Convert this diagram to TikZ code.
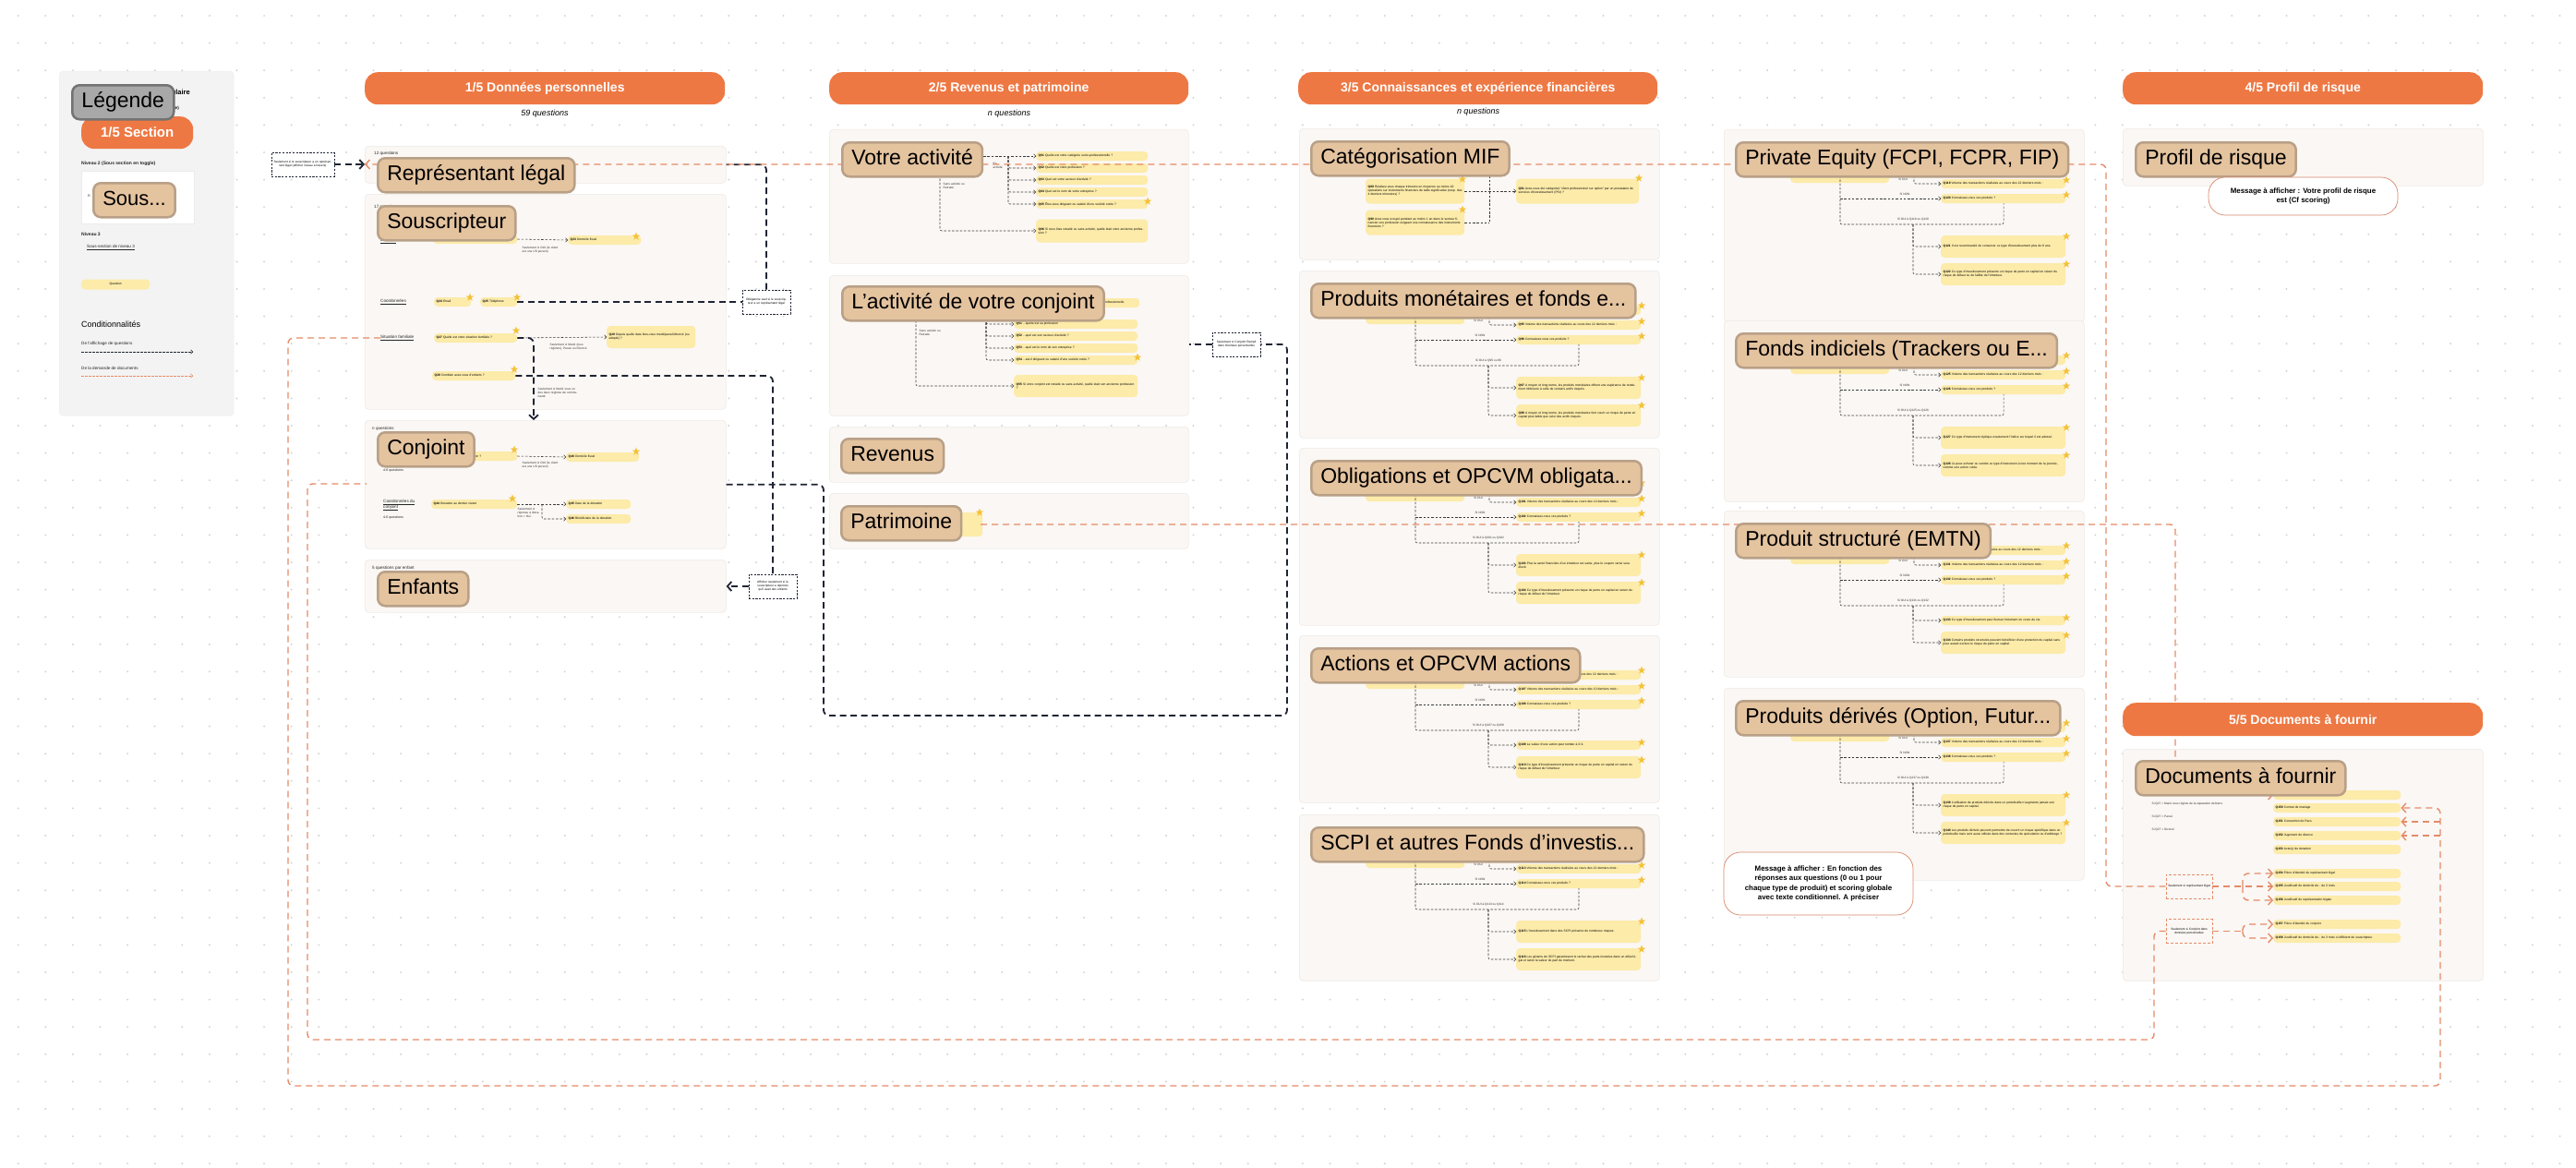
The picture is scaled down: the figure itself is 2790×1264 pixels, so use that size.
\documentclass[tikz,border=0pt]{standalone}
\usepackage{fontspec}
\setmainfont{Liberation Sans}
\usetikzlibrary{arrows.meta,shapes.geometric,calc}
\pgfdeclarelayer{bg}
\pgfdeclarelayer{fg}
\pgfsetlayers{bg,main,fg}
\definecolor{hdr}{HTML}{EE7843}
\definecolor{pnl}{HTML}{FAF7F4}
\definecolor{pnlb}{HTML}{EEEAE6}
\definecolor{lblf}{HTML}{E4C39F}
\definecolor{lbld}{HTML}{B8A087}
\definecolor{qy}{HTML}{FCEBA9}
\definecolor{stary}{HTML}{F4C23A}
\definecolor{oline}{HTML}{E58B68}
\definecolor{bline}{HTML}{1E2433}
\definecolor{tline}{HTML}{3A3A3A}
\definecolor{dotc}{HTML}{D4D4D4}
\definecolor{legf}{HTML}{F3F3F3}
\definecolor{legl}{HTML}{A8A8A8}
\definecolor{msgb}{HTML}{D9876A}
\tikzset{
 panel/.style={fill=pnl, draw=pnlb, line width=0.6pt, rounded corners=4pt, inner sep=0pt},
 legpanel/.style={fill=legf, draw=black!7, line width=0.4pt, rounded corners=4pt, inner sep=0pt},
 hdrbox/.style={fill=hdr, rounded corners=14pt, text=white, font=\fontsize{14}{16}\selectfont\bfseries, minimum height=35pt, inner sep=0pt, anchor=north west},
 lbl/.style={fill=lblf, draw=lbld, line width=2.5pt, rounded corners=8pt, font=\fontsize{23}{26}\selectfont, text=black, inner xsep=10pt, inner ysep=0pt, minimum height=37pt, anchor=north west, text height=16.5pt, text depth=5pt},
 qbar/.style={fill=qy, rounded corners=4pt, anchor=west, inner xsep=2.5pt, inner ysep=1pt, align=left, font=\fontsize{3.3}{4.1}\selectfont, minimum height=10pt, text width=#1},
 qbar/.default=120pt,
 qstar/.style={star, star points=5, star point ratio=2.4, fill=stary, minimum size=9pt, inner sep=0pt},
 tinytxt/.style={font=\fontsize{3.2}{4}\selectfont, inner sep=0.5pt, text=black!80, align=left},
 smalltxt/.style={font=\fontsize{4.6}{5.6}\selectfont, inner sep=0pt, anchor=west, text=black!85},
 tcon/.style={draw=tline, line width=0.55pt, dash pattern=on 2.5pt off 1.8pt, rounded corners=2pt},
 tarr/.style={-{Straight Barb[length=2pt,width=4.4pt]}},
 bcon/.style={draw=bline, line width=1.8pt, dash pattern=on 7pt off 4.5pt, rounded corners=6pt},
 barr/.style={-{Straight Barb[length=4.5pt,width=10pt]}},
 ocon/.style={draw=oline, line width=1.4pt, dash pattern=on 7pt off 5pt, rounded corners=6pt},
 oarr/.style={-{Straight Barb[length=4.5pt,width=10pt]}},
 notebox/.style={draw=bline, line width=0.7pt, dash pattern=on 2.2pt off 1.5pt, fill=white, align=center, font=\fontsize{3.2}{4}\selectfont, inner sep=1pt, text width=#1, minimum height=26pt},
 notebox/.default=48pt,
 onote/.style={draw=oline, line width=0.8pt, dash pattern=on 3pt off 2pt, fill=pnl, align=center, font=\fontsize{3.2}{4}\selectfont, inner sep=1pt, text width=#1, minimum height=26pt},
 onote/.default=48pt,
 msgbox/.style={draw=msgb, line width=0.7pt, fill=white, rounded corners=18pt, align=center, font=\fontsize{7.9}{10.2}\selectfont\bfseries, inner sep=2pt},
 qtxt/.style={font=\fontsize{9}{11}\selectfont\itshape, inner sep=0pt},
}
\def\ulab{}\def\zlab{}\def\hlab{}
\def\cy{127}\def\ch{24}\def\dy{157}\def\sc{116}\def\sd{146}
% product panel: #1 prefix, #2 x0, #3 top, #4 height, #5 label, #6..#9 questions
\newcommand\prodpanel[9]{%
 \begin{pgfonlayer}{bg}
 \node[panel, minimum width=390pt, minimum height=#4pt, anchor=north west] (#1p) at (#2,#3) {};
 \end{pgfonlayer}
 \node[qbar=102pt, minimum height=24pt] (#1h) at ({#2+72},{#3+46}) {\hlab};
 \node[qbar=130pt] (#1z) at ({#2+235},{#3+43}) {\zlab};
 \node[qstar] (#1sz) at ({#2+371},{#3+38}) {};
 \node[qbar=130pt] (#1a) at ({#2+235},{#3+59}) {#6};
 \node[qstar] (#1sa) at ({#2+371},{#3+55}) {};
 \node[qbar=130pt] (#1b) at ({#2+235},{#3+75}) {#7};
 \node[qstar] (#1sb) at ({#2+371},{#3+71}) {};
 \node[qbar=130pt, minimum height=\ch pt] (#1c) at ({#2+235},{#3+\cy}) {#8};
 \node[qstar] (#1sc) at ({#2+371},{#3+\sc}) {};
 \node[qbar=130pt, minimum height=24pt] (#1d) at ({#2+235},{#3+\dy}) {#9};
 \node[qstar] (#1sd) at ({#2+371},{#3+\sd}) {};
 \coordinate (#1u1) at ({#2+126},{#3+50});
 \coordinate (#1u2) at ({#2+126},{#3+103});
 \coordinate (#1u3) at ({#2+303},{#3+103});
 \coordinate (#1o1) at ({#2+206},{#3+50});
 \coordinate (#1m1) at ({#2+205},{#3+103});
 \draw[tcon] (#1u1) -- (#1u2) -- (#1u3) -- (#1u3 |- #1b.south);
 \draw[tcon,tarr] (#1u1 |- #1b.west) -- (#1b.west);
 \draw[tcon,tarr] (#1o1) |- (#1a.west);
 \draw[tcon,tarr] (#1m1) |- (#1c.west);
 \draw[tcon,tarr] (#1m1) |- (#1d.west);
 \node[tinytxt] (#1t1) at ({#2+194},{#3+54}) {Si OUI};
 \node[tinytxt] (#1t2) at ({#2+196},{#3+70}) {Si NON};
 \node[tinytxt] (#1t3) at ({#2+205},{#3+98}) {\ulab};
 \begin{pgfonlayer}{fg}
 \node[lbl] (#1l) at ({#2+12},{#3+13}) {#5};
 \end{pgfonlayer}
}
\begin{document}
\begin{tikzpicture}[x=1pt,y=-1pt]
\begin{pgfonlayer}{bg}
\fill[white] (0,0) rectangle (2790,1264);
\foreach \i in {0,...,93}{\foreach \j in {0,...,42}{\fill[dotc] ({19.7+29.6*\i},{17+29.6*\j}) circle (1.1pt);}}
% panels
\node[legpanel, minimum width=189pt, minimum height=373pt, anchor=north west] (legp) at (64,77) {};
\node[panel, minimum width=391pt, minimum height=40pt, anchor=north west] (p1a) at (395,158) {};
\node[panel, minimum width=391pt, minimum height=233pt, anchor=north west] (p1b) at (395,210) {};
\node[panel, minimum width=391pt, minimum height=139pt, anchor=north west] (p1c) at (395,455) {};
\node[panel, minimum width=391pt, minimum height=57pt, anchor=north west] (p1d) at (395,606) {};
\node[panel, minimum width=389pt, minimum height=145pt, anchor=north west] (p2a) at (898,140) {};
\node[panel, minimum width=389pt, minimum height=152pt, anchor=north west] (p2b) at (898,298) {};
\node[panel, minimum width=389pt, minimum height=60pt, anchor=north west] (p2c) at (898,462) {};
\node[panel, minimum width=389pt, minimum height=60pt, anchor=north west] (p2d) at (898,534) {};
\node[panel, minimum width=390pt, minimum height=142pt, anchor=north west] (p3m) at (1407,139) {};
\node[panel, minimum width=390pt, minimum height=62pt, anchor=north west] (p4) at (2299,139) {};
\node[panel, minimum width=390pt, minimum height=251pt, anchor=north west] (p5) at (2299,811) {};
\end{pgfonlayer}
\useasboundingbox (0,0) rectangle (2790,1264);

% ---------------- Legend ----------------
\node[anchor=east, font=\fontsize{7.5}{9}\selectfont\bfseries, inner sep=0pt] (legt1) at (206,100) {Formulaire};
\node[anchor=east, font=\fontsize{4.6}{5}\selectfont\bfseries, inner sep=0pt] (legt2) at (194,117) {(Niveau 1 de page)};
\node[hdrbox, minimum width=121pt, font=\fontsize{15}{17}\selectfont\bfseries] (legsec) at (88,126) {1/5 Section};
\node[smalltxt, font=\fontsize{5}{6}\selectfont\bfseries] (legn2) at (88,177) {Niveau 2 (Sous section en toggle)};
\node[fill=white, draw=black!8, minimum width=122pt, minimum height=57pt, anchor=north west, inner sep=0pt] (legwb) at (88,185) {};
\node[smalltxt] (legnn) at (95,212) {n};
\node[smalltxt, font=\fontsize{5}{6}\selectfont\bfseries] (legn3) at (88,254) {Niveau 3};
\node[smalltxt] (legss) at (94,268) {\underline{Sous-section de niveau 3}};
\node[qbar=69pt, align=center, minimum height=11pt] (legq) at (88,308) {Question};
\node[anchor=west, font=\fontsize{9}{11}\selectfont, inner sep=0pt] (legc) at (88,351) {Conditionnalités};
\node[smalltxt] (lega) at (88,372) {De l'affichage de questions};
\coordinate (la1) at (88,381); \coordinate (la2) at (209,381);
\draw[draw=bline, line width=0.6pt, dash pattern=on 2.5pt off 1.5pt, tarr] (la1) -- (la2);
\node[smalltxt] (legd) at (88,399) {De la demande de documents};
\coordinate (lb1) at (88,407); \coordinate (lb2) at (209,407);
\draw[draw=oline, line width=0.6pt, dash pattern=on 2.5pt off 1.5pt, tarr] (lb1) -- (lb2);
\begin{pgfonlayer}{fg}
\node[lbl, fill=legl, draw=black!55, minimum width=110pt] (leg) at (77,91) {Légende};
\node[lbl, font=\fontsize{22}{24}\selectfont] (legsous) at (100,197) {Sous...};
\end{pgfonlayer}

% ---------------- Section 1 ----------------
\begin{pgfonlayer}{fg}
\node[hdrbox, minimum width=390pt] (h1) at (395,78) {1/5 Données personnelles};
\node[lbl] (l1a) at (408,170) {Représentant légal};
\node[lbl] (l1b) at (408,222) {Souscripteur};
\node[lbl] (l1c) at (408,467) {Conjoint};
\node[lbl] (l1d) at (408,618) {Enfants};
\end{pgfonlayer}
\node[qtxt] (h1q) at (590,123) {59 questions};
\node[smalltxt] (t12q) at (405,166) {12 questions};
\node[smalltxt] (t17q) at (405,224) {17 questions};
\node[smalltxt] (ec) at (412,261) {\underline{Etat civil}};
\node[qbar=86pt] (q22) at (469,259) {\textbf{Q22} Êtes-vous une US person ?};
\node[qbar=74pt] (q23) at (615,260) {\textbf{Q23} Domicile fiscal};
\node[qstar] (s23) at (689,256) {};
\draw[tcon,tarr] (q22.east) -- (q23.west);
\node[tinytxt, anchor=north west, text width=42pt] (t22) at (565,266) {Seulement si OUI (le client est une US person)};
\node[smalltxt] (coord) at (412,327) {\underline{Coordonnées}};
\node[qbar=35pt] (q24) at (470,327) {\textbf{Q24} Email};
\node[qstar] (s24) at (509,322) {};
\node[qbar=35pt] (q25) at (520,327) {\textbf{Q25} Téléphone};
\node[qstar] (s25) at (560,322) {};
\node[smalltxt] (sfam) at (412,366) {\underline{Situation familiale}};
\node[qbar=85pt] (q27) at (470,366) {\textbf{Q27} Quelle est votre situation familiale ?};
\node[qstar] (s27) at (559,358) {};
\node[qbar=91pt, minimum height=24pt] (q29) at (657,365) {\textbf{Q29} Depuis quelle date êtes-vous marié/pacsé/divorcé (ou adopté) ?};
\draw[tcon,tarr] (q27.east) -- (q29.west);
\node[tinytxt, anchor=north west, text width=50pt] (t27) at (595,371) {Seulement si Marié (tous régimes), Pacsé ou Divorcé};
\node[qbar=85pt] (q28) at (468,407) {\textbf{Q28} Combien avez-vous d'enfants ?};
\node[qstar] (s28) at (557,400) {};
\node[tinytxt, anchor=north west, text width=45pt] (t28) at (582,419) {Seulement si Marié sous un des deux régimes de communauté};
\node[smalltxt] (tnq) at (403,464) {\textit{n questions}};
\node[qbar=85pt] (q39) at (470,494) {\textbf{Q39} Êtes-vous une US person ?};
\node[qstar] (s39) at (557,487) {};
\node[smalltxt, font=\fontsize{3.6}{4}\selectfont] (t46q) at (415,510) {4-6 questions};
\node[qbar=74pt] (q40) at (613,495) {\textbf{Q40} Domicile fiscal};
\node[qstar] (s40) at (689,489) {};
\draw[tcon,tarr] (q39.east) -- (q40.west);
\node[tinytxt, anchor=north west, text width=42pt] (t39) at (565,499) {Seulement si OUI (le client est une US person)};
\node[smalltxt, anchor=north west, align=left] (cdc) at (415,541) {\underline{Coordonnées du}\\\underline{conjoint}};
\node[smalltxt, font=\fontsize{3.6}{4}\selectfont] (t46r) at (415,561) {4-6 questions};
\node[qbar=88pt] (q44) at (467,546) {\textbf{Q44} Donation au dernier vivant};
\node[qstar] (s44) at (555,540) {};
\node[qbar=65pt] (q45) at (613,546) {\textbf{Q45} Date de la donation};
\node[qbar=65pt] (q46) at (613,562) {\textbf{Q46} Bénéficiaire de la donation};
\coordinate (j44) at (587,546);
\draw[tcon,tarr] (q44.east) -- (q45.west);
\draw[tcon,tarr] (j44) |- (q46.west);
\node[tinytxt, anchor=north west, text width=25pt] (t44) at (560,549) {Seulement si réponse à donation = Oui};
\node[smalltxt] (t5q) at (403,615) {5 questions par enfant};
% black conditions
\node[notebox=66pt] (n0) at (328,178) {Seulement si le souscripteur a un représentant légal (afficher niveau à travers)};
\draw[bcon,barr] (n0.east) -- (n0.east -| p1a.west);
\node[notebox=50pt] (nOb) at (830,327) {Obligatoire sauf si le souscripteur a un représentant légal};
\draw[bcon] (q25.east) -- (nOb.west);
\draw[bcon] (nOb.north) |- (p1a.east);
\coordinate (bq27) at (578,455);
\draw[bcon,barr] (q27.east) -| (bq27);
\node[notebox=50pt] (nEnf) at (837,635) {Afficher seulement si le souscripteur a répondu qu'il avait des enfants};
\draw[bcon] (q28.east) -| (nEnf.north);
\draw[bcon,barr] (nEnf.west) -- (nEnf.west -| p1d.east);

% ---------------- Section 2 ----------------
\begin{pgfonlayer}{fg}
\node[hdrbox, minimum width=389pt] (h2) at (898,78) {2/5 Revenus et patrimoine};
\node[lbl] (l2a) at (911,153) {Votre activité};
\node[lbl] (l2b) at (911,309) {L'activité de votre conjoint};
\node[lbl] (l2c) at (910,474) {Revenus};
\node[lbl] (l2d) at (910,547) {Patrimoine};
\end{pgfonlayer}
\node[qtxt] (h2q) at (1093,123) {n questions};
\node[qbar=116pt] (q01) at (1122,169) {\textbf{Q01} Quelle est votre catégorie socio-professionnelle ?};
\node[qbar=116pt] (q02) at (1122,182) {\textbf{Q02} Quelle est votre profession ?};
\node[qbar=116pt] (q03) at (1122,195) {\textbf{Q03} Quel est votre secteur d'activité ?};
\node[qbar=116pt] (q04) at (1122,208) {\textbf{Q04} Quel est le nom de votre entreprise ?};
\node[qbar=116pt] (q05) at (1122,221) {\textbf{Q05} Êtes-vous dirigeant ou salarié d'une société cotée ?};
\node[qstar] (s05) at (1243,218) {};
\node[qbar=116pt, minimum height=25pt] (q06) at (1122,250) {\textbf{Q06} Si vous êtes retraité ou sans activité, quelle était votre ancienne profession ?};
\coordinate (v2a) at (1092,169);
\draw[tcon,tarr] (v2a -| l2a.east) -- (q01.west);
\foreach \q in {q02,q03,q04,q05}{\draw[tcon,tarr] (v2a) |- (\q.west);}
\node[tinytxt, anchor=north west] (t2a) at (1075,176) {En\\activité};
\coordinate (v2b) at (1018,189);
\draw[tcon,tarr] (v2b) |- (q06.west);
\node[tinytxt, anchor=north west, text width=24pt] (t2b) at (1021,197) {Sans activité ou Retraité};
\node[qbar=129pt] (q50) at (1100,328) {\textbf{Q50} Votre conjoint est-il en activité ? ...quelle est sa situation professionnelle};
\node[qbar=129pt] (q51) at (1098,351) {\textbf{Q51} ...quelle est sa profession};
\node[qbar=129pt] (q52) at (1098,364) {\textbf{Q52} ...quel est son secteur d'activité ?};
\node[qbar=129pt] (q53) at (1098,377) {\textbf{Q53} ...quel est le nom de son entreprise ?};
\node[qbar=129pt] (q54) at (1098,390) {\textbf{Q54} ...est-il dirigeant ou salarié d'une société cotée ?};
\node[qstar] (s54) at (1232,387) {};
\node[qbar=129pt, minimum height=24pt] (q55) at (1098,418) {\textbf{Q55} Si votre conjoint est retraité ou sans activité, quelle était son ancienne profession ?};
\coordinate (v2c) at (1068,345);
\foreach \q in {q51,q52,q53,q54}{\draw[tcon,tarr] (v2c) |- (\q.west);}
\coordinate (v2d) at (992,347);
\draw[tcon,tarr] (v2d) |- (q55.west);
\node[tinytxt, anchor=north west, text width=24pt] (t2d) at (995,356) {Sans activité ou Retraité};
\node[qbar=24pt, minimum height=26pt] (qpat) at (1035,568) {};
\node[qstar] (spat) at (1061,555) {};
\coordinate (opat) at (1062,568);
\node[notebox=50pt] (nCj) at (1339,373) {Seulement si Conjoint Rempli dans Données personnelles};
\coordinate (bk1) at (892,775); \coordinate (bk2) at (1394,373);
\draw[bcon] (p1c.east) -| (bk1) -| (bk2) -- (nCj.east);
\draw[bcon] (nCj.west) -- (nCj.west -| p2b.east);

% ---------------- Section 3 ----------------
\begin{pgfonlayer}{fg}
\node[hdrbox, minimum width=389pt] (h3) at (1406,78) {3/5 Connaissances et expérience financières};
\node[lbl] (l3m) at (1419,152) {Catégorisation MIF};
\end{pgfonlayer}
\node[qtxt] (h3q) at (1601,121) {n questions};
\node[qbar=102pt, minimum height=27pt] (q89) at (1479,207) {\textbf{Q89} Réalisez-vous chaque trimestre en moyenne au moins 10 opérations sur instruments financiers de taille significative (resp. des 4 derniers trimestres) ?};
\node[qstar] (s89) at (1584,194) {};
\node[qbar=102pt, minimum height=27pt] (q90) at (1479,241) {\textbf{Q90} Avez-vous occupé pendant au moins 1 an dans le secteur financier une profession exigeant une connaissance des instruments financiers ?};
\node[qstar] (s90) at (1584,227) {};
\node[qbar=128pt, minimum height=27pt] (q91) at (1642,207) {\textbf{Q91} Avez-vous été catégorisé “client professionnel sur option” par un prestataire de services d'investissement (PSI) ?};
\node[qstar] (s91) at (1775,193) {};
\coordinate (mifv1) at (1613,186); \coordinate (mifv2) at (1613,241);
\draw[tcon] (mifv1) -- (mifv2);
\draw[tcon] (q90.east) -- (mifv2);
\draw[tcon,tarr] (q89.east) -- (q91.west);

\def\hlab{\textbf{Q93} Avez-vous déjà investi dans ce type de produits ?}
\def\zlab{\textbf{Q94} Nombre de transactions réalisées au cours des 12 derniers mois :}
\def\ulab{Si OUI à Q95 ou 96}
\prodpanel{mon}{1407}{293}{181}{Produits monétaires et fonds e...}{\textbf{Q95} Volume des transactions réalisées au cours des 12 derniers mois :}{\textbf{Q96} Connaissez-vous ces produits ?}{\textbf{Q97} A moyen et long terme, les produits monétaires offrent une espérance de rendement inférieure à celle de certains actifs risqués.}{\textbf{Q98} A moyen et long terme, les produits monétaires font courir un risque de perte en capital plus faible que celui des actifs risqués.}
\def\hlab{\textbf{Q99} Avez-vous déjà investi dans ce type de produits ?}
\def\zlab{\textbf{Q100} Nombre de transactions réalisées au cours des 12 derniers mois :}
\def\ulab{Si OUI à Q101 ou Q102}
\prodpanel{obl}{1407}{485}{192}{Obligations et OPCVM obligata...}{\textbf{Q101} Volume des transactions réalisées au cours des 12 derniers mois :}{\textbf{Q102} Connaissez-vous ces produits ?}{\textbf{Q103} Plus la santé financière d'un émetteur est saine, plus le coupon versé sera élevé.}{\textbf{Q104} Ce type d'investissement présente un risque de perte en capital en raison du risque de défaut de l'émetteur.}
\def\hlab{\textbf{Q105} Avez-vous déjà investi dans ce type de produits ?}
\def\zlab{\textbf{Q106} Nombre de transactions réalisées au cours des 12 derniers mois :}
\def\ulab{Si OUI à Q107 ou Q108}
\def\cy{119}\def\ch{10}\def\dy{143}\def\sc{116}\def\sd{135}
\prodpanel{act}{1407}{688}{181}{Actions et OPCVM actions}{\textbf{Q107} Volume des transactions réalisées au cours des 12 derniers mois :}{\textbf{Q108} Connaissez-vous ces produits ?}{\textbf{Q109} La valeur d'une action peut tomber à 0 €.}{\textbf{Q110} Ce type d'investissement présente un risque de perte en capital en raison du risque de défaut de l'émetteur.}
\def\cy{127}\def\ch{24}\def\dy{157}\def\sc{116}\def\sd{146}
\def\hlab{\textbf{Q111} Avez-vous déjà investi dans ce type de produits ?}
\def\zlab{\textbf{Q112} Nombre de transactions réalisées au cours des 12 derniers mois :}
\def\ulab{Si OUI à Q113 ou Q114}
\prodpanel{scpi}{1407}{882}{180}{SCPI et autres Fonds d'investis...}{\textbf{Q113} Volume des transactions réalisées au cours des 12 derniers mois :}{\textbf{Q114} Connaissez-vous ces produits ?}{\textbf{Q115} L'investissement dans des SCPI présente de nombreux risques.}{\textbf{Q116} Les gérants de SCPI garantissent le rachat des parts investies dans un délai légal et selon la valeur de part du moment.}
\def\hlab{\textbf{Q117} Avez-vous déjà investi dans ce type de produits ?}
\def\zlab{\textbf{Q118} Nombre de transactions réalisées au cours des 12 derniers mois :}
\def\ulab{Si OUI à Q119 ou Q120}
\prodpanel{pe}{1867}{140}{209}{Private Equity (FCPI, FCPR, FIP)}{\textbf{Q119} Volume des transactions réalisées au cours des 12 derniers mois :}{\textbf{Q120} Connaissez-vous ces produits ?}{\textbf{Q121} Il est recommandé de conserver ce type d'investissement plus de 8 ans.}{\textbf{Q122} Ce type d'investissement présente un risque de perte en capital en raison du risque de défaut ou de faillite de l'émetteur.}
\def\hlab{\textbf{Q123} Avez-vous déjà investi dans ce type de produits ?}
\def\zlab{\textbf{Q124} Nombre de transactions réalisées au cours des 12 derniers mois :}
\def\ulab{Si OUI à Q125 ou Q126}
\prodpanel{fi}{1867}{347}{196}{Fonds indiciels (Trackers ou E...}{\textbf{Q125} Volume des transactions réalisées au cours des 12 derniers mois :}{\textbf{Q126} Connaissez-vous ces produits ?}{\textbf{Q127} Ce type d'instrument réplique exactement l'indice sur lequel il est adossé.}{\textbf{Q128} Je peux acheter ou vendre ce type d'instrument à tout moment de la journée, comme une action cotée.}
\def\hlab{\textbf{Q129} Avez-vous déjà investi dans ce type de produits ?}
\def\zlab{\textbf{Q130} Nombre de transactions réalisées au cours des 12 derniers mois :}
\def\ulab{Si OUI à Q131 ou Q132}
\def\cy{119}\def\ch{10}\def\dy{143}\def\sc{116}\def\sd{135}
\prodpanel{ps}{1867}{553}{180}{Produit structuré (EMTN)}{\textbf{Q131} Volume des transactions réalisées au cours des 12 derniers mois :}{\textbf{Q132} Connaissez-vous ces produits ?}{\textbf{Q133} Ce type d'investissement peut fluctuer fortement en cours de vie.}{\textbf{Q134} Certains produits structurés peuvent bénéficier d'une protection du capital sans pour autant exclure le risque de perte en capital.}
\def\cy{127}\def\ch{24}\def\dy{157}\def\sc{116}\def\sd{146}
\def\hlab{\textbf{Q135} Avez-vous déjà investi dans ce type de produits ?}
\def\zlab{\textbf{Q136} Nombre de transactions réalisées au cours des 12 derniers mois :}
\def\ulab{Si OUI à Q137 ou Q138}
\prodpanel{pd}{1867}{745}{208}{Produits dérivés (Option, Futur...}{\textbf{Q137} Volume des transactions réalisées au cours des 12 derniers mois :}{\textbf{Q138} Connaissez-vous ces produits ?}{\textbf{Q139} L'utilisation de produits dérivés dans un portefeuille n'augmente jamais son risque de perte en capital.}{\textbf{Q140} Les produits dérivés peuvent permettre de couvrir un risque spécifique dans un portefeuille mais sont aussi utilisés dans des contextes de spéculation ou d'arbitrage ?}

% ---------------- Section 4 ----------------
\begin{pgfonlayer}{fg}
\node[hdrbox, minimum width=390pt] (h4) at (2299,78) {4/5 Profil de risque};
\node[lbl] (l4) at (2312,153) {Profil de risque};
\node[msgbox, minimum width=205pt, minimum height=41pt] (msg1) at (2494.5,212.5) {Message à afficher : Votre profil de risque\\est (Cf scoring)};
\node[msgbox, minimum width=205pt, minimum height=68pt] (msg2) at (1969.5,957) {Message à afficher : En fonction des\\réponses aux questions (0 ou 1 pour\\chaque type de produit) et scoring globale\\avec texte conditionnel. A préciser};
\end{pgfonlayer}

% ---------------- Section 5 ----------------
\begin{pgfonlayer}{fg}
\node[hdrbox, minimum width=390pt, minimum height=36pt] (h5) at (2299,761) {5/5 Documents à fournir};
\node[lbl] (l5) at (2312,823) {Documents à fournir};
\end{pgfonlayer}
\node[tinytxt, anchor=west] (d27a) at (2330,871) {Si Q27 = Marié sous régime de la séparation de biens};
\node[tinytxt, anchor=west] (d27b) at (2330,885) {Si Q27 = Pacsé};
\node[tinytxt, anchor=west] (d27c) at (2330,899) {Si Q27 = Divorcé};
\node[qbar=133pt] (q149) at (2462,861) {\textbf{Q149} Certificat de situation};
\node[qbar=133pt] (q150) at (2462,875) {\textbf{Q150} Contrat de mariage};
\node[qbar=133pt] (q151) at (2462,890) {\textbf{Q151} Convention de Pacs};
\node[qbar=133pt] (q152) at (2462,905) {\textbf{Q152} Jugement de divorce};
\node[qbar=133pt] (q153) at (2462,920) {\textbf{Q153} Acte(s) de donation};
\node[qbar=133pt] (q154) at (2462,946) {\textbf{Q154} Pièce d'identité du représentant légal};
\node[qbar=133pt] (q155) at (2462,960) {\textbf{Q155} Justificatif de domicile de - de 3 mois};
\node[qbar=133pt] (q156) at (2462,975) {\textbf{Q156} Justificatif de représentation légale};
\node[qbar=133pt] (q157) at (2462,1001) {\textbf{Q157} Pièce d'identité du conjoint};
\node[qbar=133pt] (q158) at (2462,1016) {\textbf{Q158} Justificatif de domicile de - de 3 mois si différent du souscripteur};
\node[onote] (nd1) at (2371,960) {Seulement si représentant légal};
\node[onote] (nd2) at (2371,1008.5) {Seulement si Conjoint dans données personnelles};
\coordinate (j1) at (2429,960);
\draw[ocon,oarr] (nd1.east) -- (q155.west);
\draw[ocon,oarr] (j1) |- (q154.west);
\draw[ocon,oarr] (j1) |- (q156.west);
\coordinate (j2) at (2429,1008.5);
\draw[ocon] (nd2.east) -- (j2);
\draw[ocon,oarr] (j2) |- (q157.west);
\draw[ocon,oarr] (j2) |- (q158.west);

% ---------------- Orange document lines ----------------
\coordinate (o1a) at (2281,178);
\draw[ocon,oarr] (nd1.west) -| (o1a) -- (o1a -| p1a.west);
\coordinate (o2a) at (312,1176); \coordinate (o2b) at (2643,875);
\draw[ocon,oarr] (sfam.west) -| (o2a) -| (o2b) -- (q150.east);
\draw[ocon,oarr] (o2b |- q151.east) -- (q151.east);
\draw[ocon,oarr] (o2b |- q152.east) -- (q152.east);
\coordinate (o3a) at (2333,1126); \coordinate (o3b) at (333,524); \coordinate (o3c) at (397,524);
\draw[ocon] (nd2.west) -| (o3a) -| (o3b) -- (o3c);
\coordinate (o4b) at (2356,861);
\draw[ocon,oarr] (opat) -| (o4b) -- (q149.west);
\end{tikzpicture}
\end{document}
